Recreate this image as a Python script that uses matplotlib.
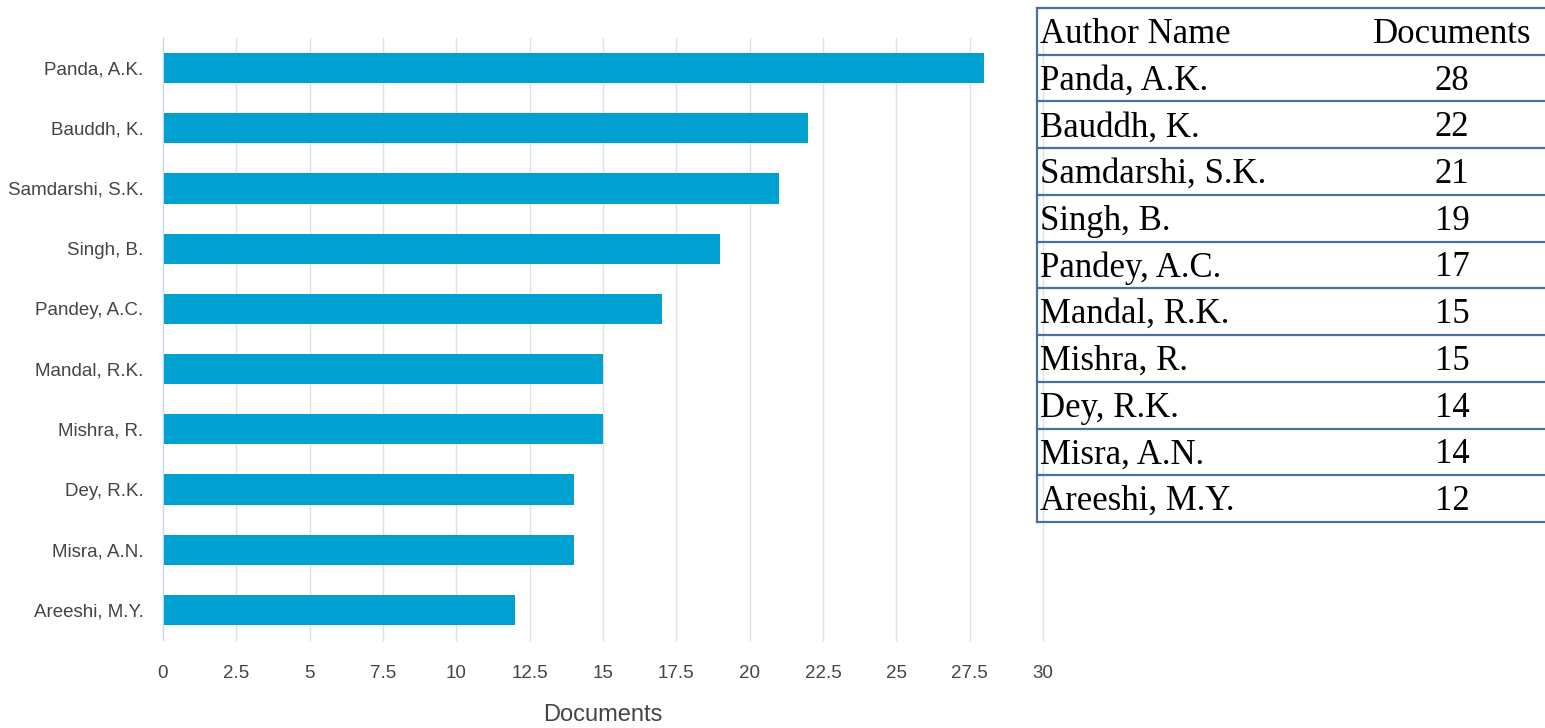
import numpy as np
import matplotlib.pyplot as plt
from matplotlib.lines import Line2D

authors = ["Panda, A.K.", "Bauddh, K.", "Samdarshi, S.K.", "Singh, B.", "Pandey, A.C.",
           "Mandal, R.K.", "Mishra, R.", "Dey, R.K.", "Misra, A.N.", "Areeshi, M.Y."]
documents = [28, 22, 21, 19, 17, 15, 15, 14, 14, 12]
x_ticks = [0, 2.5, 5, 7.5, 10, 12.5, 15, 17.5, 20, 22.5, 25, 27.5, 30]
x_tick_labels = ["0", "2.5", "5", "7.5", "10", "12.5", "15", "17.5", "20", "22.5", "25", "27.5", "30"]
table_header = ["Author Name", "Documents"]

W, H = 1545, 728
fig = plt.figure(figsize=(W / 100, H / 100), dpi=100)
sans = ["Liberation Sans", "DejaVu Sans"]
serif = ["Liberation Serif", "DejaVu Serif"]

# bar chart
ax = fig.add_axes([163 / W, 1 - 640 / H, (1043 - 163) / W, (640 - 38) / H])
y = np.arange(len(authors))
ax.barh(y, documents, height=0.5, color="#00a0d0")
ax.set_xlim(0, 30)
ax.set_ylim(len(authors) - 0.5, -0.5)
ax.set_yticks(y)
ax.set_yticklabels(authors)
ax.set_xticks(x_ticks)
ax.set_xticklabels(x_tick_labels)
ax.xaxis.grid(True, color="#e0e0e6", linewidth=1)
for gl in ax.get_xgridlines():
    gl.set_clip_on(False)
ax.set_axisbelow(True)
for s in ["top", "right", "bottom"]:
    ax.spines[s].set_visible(False)
ax.spines["left"].set_color("#c8d6ec")
ax.tick_params(length=0, colors="#444444", labelsize=13.5)
ax.tick_params(axis="y", pad=14)
ax.tick_params(axis="x", pad=18)
for lab in ax.get_xticklabels() + ax.get_yticklabels():
    lab.set_family(sans)
ax.set_xlabel("Documents", fontsize=17, color="#444444", family=sans, labelpad=16)

# table on the right
line_col = "#4a6fa0"
top, bottom = 8, 522
left_x = 1037
n_rows = len(authors) + 1
row_h = (bottom - top) / n_rows

def fy(py):
    return 1 - py / H

fig.add_artist(Line2D([left_x / W, left_x / W], [fy(top), fy(bottom)],
                      color=line_col, linewidth=1.6, transform=fig.transFigure))
for i in range(n_rows + 1):
    yy = top + i * row_h
    fig.add_artist(Line2D([left_x / W, 1], [fy(yy), fy(yy)],
                          color=line_col, linewidth=1.6, transform=fig.transFigure))

off = 3
cy = top + row_h / 2 + off
fig.text(1040 / W, fy(cy), table_header[0], fontsize=25, family=serif, va="center", ha="left")
fig.text(1452 / W, fy(cy), table_header[1], fontsize=25, family=serif, va="center", ha="center")
for i, (name, d) in enumerate(zip(authors, documents)):
    cy = top + (i + 1.5) * row_h + off
    fig.text(1040 / W, fy(cy), name, fontsize=25, family=serif, va="center", ha="left")
    fig.text(1452 / W, fy(cy), str(d), fontsize=25, family=serif, va="center", ha="center")

fig.savefig("out.png", dpi=100)
